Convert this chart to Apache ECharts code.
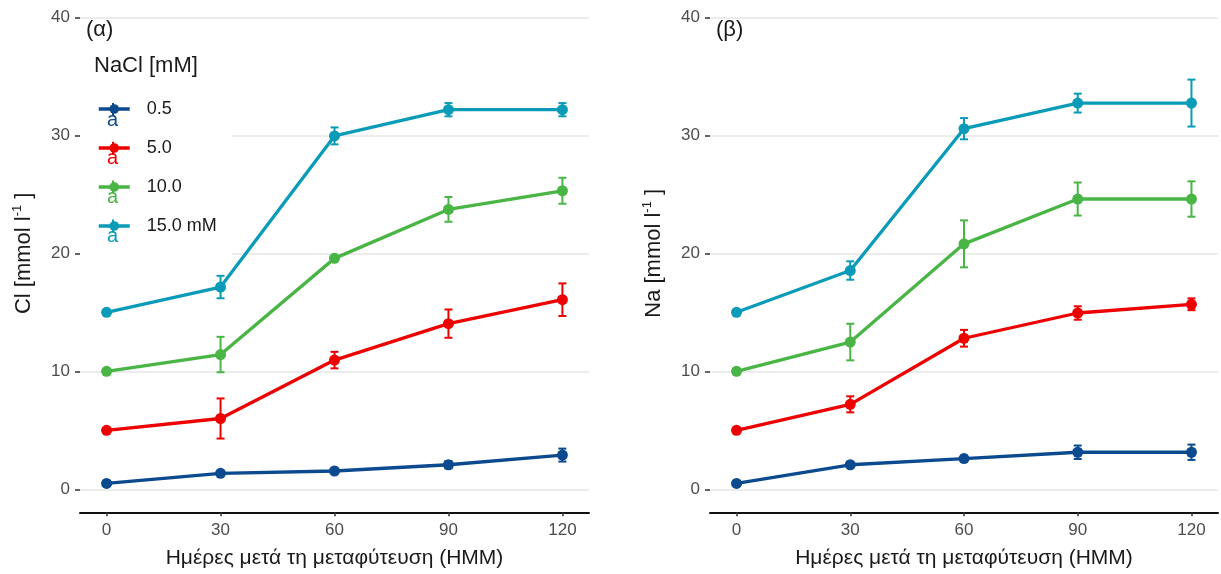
<!DOCTYPE html>
<html>
<head>
<meta charset="utf-8">
<script src="https://cdn.jsdelivr.net/npm/echarts@6/dist/echarts.min.js"></script>
<style>
  html, body { margin: 0; padding: 0; background: #fff; }
  #chart { width: 1221px; height: 574px; }
</style>
</head>
<body>
<div id="chart"></div>
<script>
// days after transplanting
const days = [0, 30, 60, 90, 120];
const levels = ['0.5', '5.0', '10.0', '15.0 mM'];
const colors = ['#0B4A8E', '#EE0000', '#49B545', '#0A9BB8'];
const yTicks = [0, 10, 20, 30, 40];

// (α) Cl, mean and error per NaCl level
const clMean05 = [0.5, 1.35, 1.55, 2.08, 2.9];
const clErr05 = [0.05, 0.1, 0.2, 0.3, 0.55];
const clMean5 = [5.0, 6.0, 10.95, 14.04, 16.07];
const clErr5 = [0.05, 1.7, 0.7, 1.2, 1.38];
const clMean10 = [10.0, 11.42, 19.57, 23.72, 25.3];
const clErr10 = [0.05, 1.5, 0.15, 1.05, 1.1];
const clMean15 = [15.0, 17.14, 29.95, 32.17, 32.17];
const clErr15 = [0.05, 0.95, 0.72, 0.56, 0.56];

// (β) Na
const naMean05 = [0.5, 2.08, 2.6, 3.14, 3.14];
const naErr05 = [0.05, 0.15, 0.25, 0.57, 0.65];
const naMean5 = [5.0, 7.2, 12.8, 14.94, 15.68];
const naErr5 = [0.05, 0.68, 0.71, 0.57, 0.5];
const naMean10 = [10.0, 12.48, 20.8, 24.6, 24.6];
const naErr10 = [0.05, 1.55, 1.99, 1.4, 1.5];
const naMean15 = [15.0, 18.54, 30.56, 32.73, 32.73];
const naErr15 = [0.05, 0.78, 0.9, 0.8, 1.99];

const clMeans = [clMean05, clMean5, clMean10, clMean15];
const clErrs = [clErr05, clErr5, clErr10, clErr15];
const naMeans = [naMean05, naMean5, naMean10, naMean15];
const naErrs = [naErr05, naErr5, naErr10, naErr15];

const chart = echarts.init(document.getElementById('chart'));

function errorBars(api) {
  const x = api.value(0);
  const lo = api.coord([x, api.value(1) - api.value(2)]);
  const hi = api.coord([x, api.value(1) + api.value(2)]);
  const w = 4;
  const style = { stroke: api.visual('color'), lineWidth: 2 };
  return {
    type: 'group',
    children: [
      { type: 'line', shape: { x1: lo[0], y1: lo[1], x2: hi[0], y2: hi[1] }, style },
      { type: 'line', shape: { x1: lo[0] - w, y1: lo[1], x2: lo[0] + w, y2: lo[1] }, style },
      { type: 'line', shape: { x1: hi[0] - w, y1: hi[1], x2: hi[0] + w, y2: hi[1] }, style }
    ]
  };
}

function panelSeries(means, errs, idx) {
  const out = [];
  levels.forEach((name, i) => {
    out.push({
      name: 'err' + idx + '_' + i,
      type: 'custom',
      xAxisIndex: idx,
      yAxisIndex: idx,
      itemStyle: { color: colors[i] },
      renderItem: (params, api) => errorBars(api),
      data: days.map((d, k) => [d, means[i][k], errs[i][k]]),
      z: 3
    });
    out.push({
      name: name,
      type: 'line',
      xAxisIndex: idx,
      yAxisIndex: idx,
      symbol: 'circle',
      symbolSize: 11,
      color: colors[i],
      lineStyle: { width: 3.3 },
      data: days.map((d, k) => [d, means[i][k]]),
      z: 4
    });
  });
  return out;
}

function xAxis(idx) {
  return {
    type: 'value',
    gridIndex: idx,
    min: -7,
    max: 127,
    offset: 23,
    name: 'Ημέρες μετά τη μεταφύτευση (ΗΜΜ)',
    nameLocation: 'middle',
    nameGap: 35,
    nameTextStyle: { fontSize: 21, color: '#1a1a1a', fontFamily: 'Liberation Sans' },
    axisLine: { onZero: false, lineStyle: { color: '#111', width: 2 } },
    axisTick: { length: 4, lineStyle: { color: '#333', width: 1.5 }, customValues: days },
    axisLabel: { customValues: days, fontSize: 17, color: '#4d4d4d', margin: 10, fontFamily: 'Liberation Sans' },
    splitLine: { show: false }
  };
}

function yAxis(idx, label) {
  return {
    type: 'value',
    gridIndex: idx,
    min: 0,
    max: 40,
    interval: 10,
    name: '{a|' + label + ' [mmol l}{b|-1}{a| ]}',
    nameLocation: 'middle',
    nameGap: 44,
    nameTextStyle: {
      rich: {
        a: { fontSize: 22, color: '#1a1a1a', fontFamily: 'Liberation Sans' },
        b: { fontSize: 13, color: '#1a1a1a', fontFamily: 'Liberation Sans', padding: [0, 0, 12, 0] }
      }
    },
    axisLine: { show: false, onZero: false },
    axisTick: { show: true, length: 5, lineStyle: { color: '#333', width: 1.5 } },
    axisLabel: { fontSize: 17, color: '#4d4d4d', margin: 10, fontFamily: 'Liberation Sans' },
    splitLine: { lineStyle: { color: '#e6e6e6', width: 1.5 } }
  };
}

// legend key extras: error-bar stem and the "a" glyph under each key
const keyExtras = [];
colors.forEach((c, i) => {
  keyExtras.push({
    type: 'line', z: 7,
    shape: { x1: 113, y1: 103 + i * 38.8, x2: 113, y2: 116 + i * 38.8 },
    style: { stroke: c, lineWidth: 2 }
  });
  keyExtras.push({
    type: 'text', left: 107, top: 110 + i * 38.8, z: 7,
    style: { text: 'a', fill: c, font: '20px "Liberation Sans"' }
  });
});

chart.setOption({
  animation: false,
  grid: [
    { left: 80, right: 632, top: 17.3, bottom: 84.7 },
    { left: 710, right: 3, top: 17.3, bottom: 84.7 }
  ],
  title: [
    { text: '(α)', left: 86, top: 19, padding: 0, textStyle: { fontSize: 22, fontWeight: 'normal', color: '#1a1a1a', fontFamily: 'Liberation Sans' } },
    { text: 'NaCl [mM]', left: 94, top: 55, padding: 0, textStyle: { fontSize: 22, fontWeight: 'normal', color: '#1a1a1a', fontFamily: 'Liberation Sans' } },
    { text: '(β)', left: 716, top: 19, padding: 0, textStyle: { fontSize: 22, fontWeight: 'normal', color: '#1a1a1a', fontFamily: 'Liberation Sans' } }
  ],
  legend: {
    data: levels,
    orient: 'vertical',
    left: 97,
    top: 100,
    padding: 0,
    itemWidth: 31,
    itemHeight: 12,
    itemGap: 21,
    z: 6,
    lineStyle: { width: 3.5 },
    textStyle: { fontSize: 18, color: '#1a1a1a', fontFamily: 'Liberation Sans', padding: [0, 0, 0, 12] }
  },
  graphic: [
    { type: 'rect', left: 80, top: 40, shape: { width: 152, height: 218 }, style: { fill: '#fff' }, z: 1 }
  ].concat(keyExtras),
  xAxis: [xAxis(0), xAxis(1)],
  yAxis: [yAxis(0, 'Cl'), yAxis(1, 'Na')],
  series: panelSeries(clMeans, clErrs, 0).concat(panelSeries(naMeans, naErrs, 1))
});
</script>
</body>
</html>
